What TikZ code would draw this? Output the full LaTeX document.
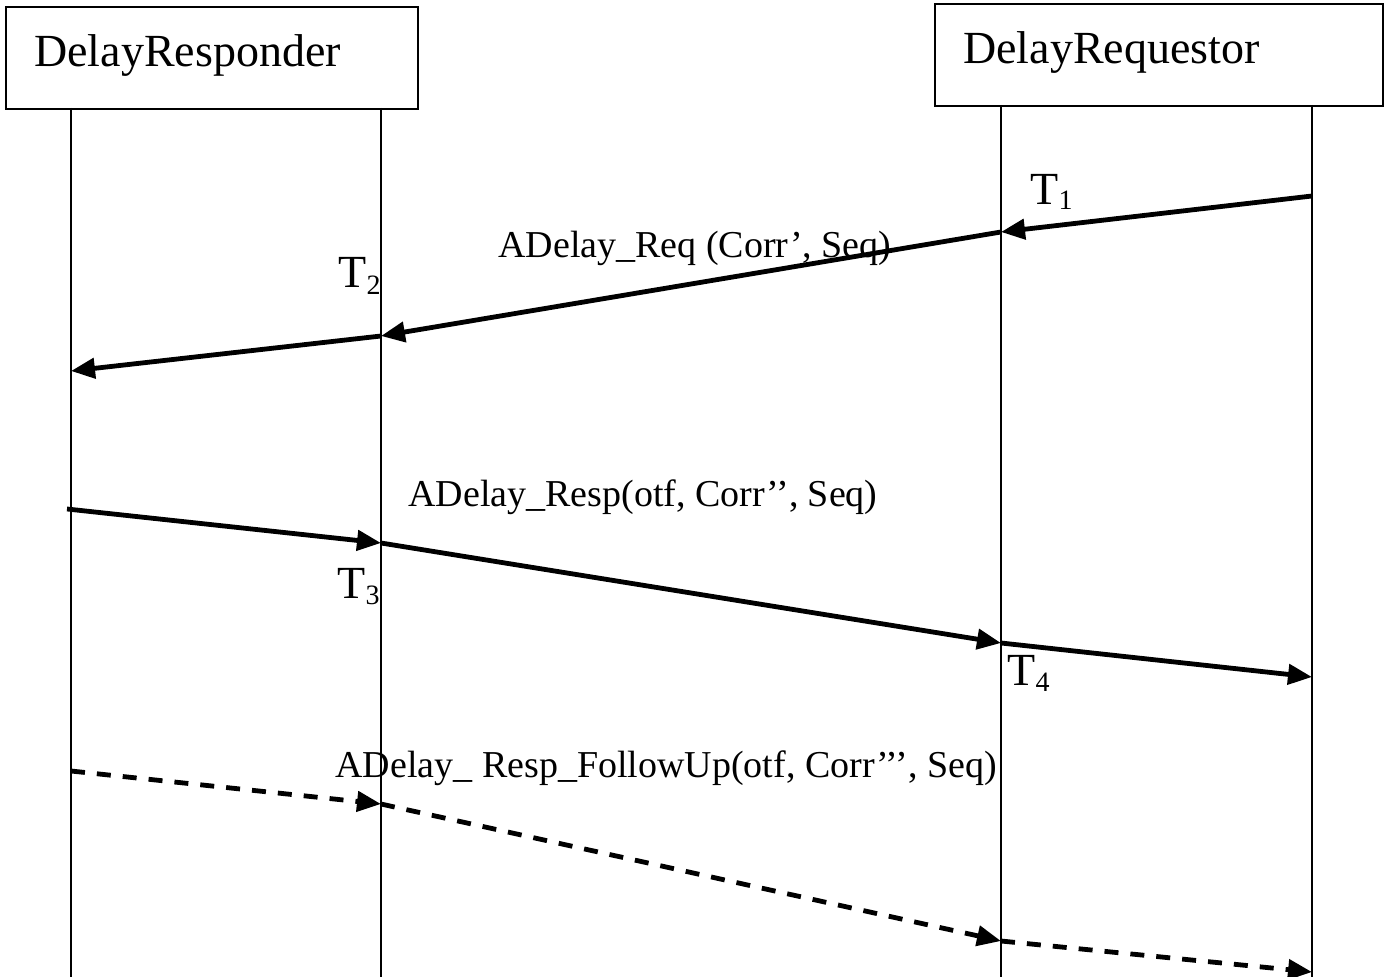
\documentclass[tikz,border=0pt]{standalone}
\usepackage{fontspec}
\setmainfont{Liberation Serif}
\usetikzlibrary{arrows.meta}

\begin{document}
\begin{tikzpicture}[x=0.5pt,y=-0.5pt,
  actor/.style={draw,line width=1.2pt,anchor=north west,minimum height=51pt,inner xsep=14pt,align=left,text height=14pt,text depth=6pt,font=\fontsize{23}{27}\selectfont},
  life/.style={line width=1.1pt},
  msg/.style={line width=2.4pt,-{Triangle[length=12pt,width=10pt]}},
  fmsg/.style={msg,dash pattern=on 7pt off 6pt},
  tlbl/.style={anchor=base west,inner sep=0pt,font=\fontsize{23}{27}\selectfont},
  mlbl/.style={anchor=base west,inner sep=0pt,font=\fontsize{19}{23}\selectfont}]
\useasboundingbox (0,0) rectangle (1385,977);
\draw (5,6) node[actor,text width=178pt](responder) {DelayResponder};
\draw (934,3) node[actor,text width=196pt](requestor) {DelayRequestor};
% lifelines
\coordinate (rsa) at (71,108);  \coordinate (rsb) at (71,977);
\coordinate (rta) at (381,108); \coordinate (rtb) at (381,977);
\coordinate (qsa) at (1001,105); \coordinate (qsb) at (1001,977);
\coordinate (qta) at (1312,105); \coordinate (qtb) at (1312,977);
\draw[life] (rsa) -- (rsb);
\draw[life] (rta) -- (rtb);
\draw[life] (qsa) -- (qsb);
\draw[life] (qta) -- (qtb);
% Delay_Req
\coordinate (reqone) at (1312,196);
\coordinate (reqtwo) at (1001,232);
\coordinate (reqthree) at (381,336);
\coordinate (reqfour) at (71,371);
\draw[msg] (reqone) -- (reqtwo);
\draw[msg] (reqtwo) -- (reqthree);
\draw[msg] (reqthree) -- (reqfour);
\draw (498,258) node[mlbl](reqlbl) {ADelay\_Req (Corr’, Seq)};
\draw (1030,205) node[tlbl](tone) {T\raisebox{-2.5pt}{\fontsize{14}{14}\selectfont 1}};
\draw (338,288) node[tlbl](ttwo) {T\raisebox{-3.5pt}{\fontsize{14}{14}\selectfont 2}};
% Delay_Resp
\coordinate (respone) at (67,509);
\coordinate (resptwo) at (381,543);
\coordinate (respthree) at (1001,643);
\coordinate (respfour) at (1312,677);
\draw[msg] (respone) -- (resptwo);
\draw[msg] (resptwo) -- (respthree);
\draw[msg] (respthree) -- (respfour);
\draw (408,507) node[mlbl](resplbl) {ADelay\_Resp(otf, Corr’’, Seq)};
\draw (337,598) node[tlbl](tthree) {T\raisebox{-3pt}{\fontsize{14}{14}\selectfont 3}};
\draw (1007,685) node[tlbl](tfour) {T\raisebox{-3pt}{\fontsize{14}{14}\selectfont 4}};
% Delay_Resp_FollowUp
\coordinate (folone) at (71,771);
\coordinate (foltwo) at (381,804);
\coordinate (folthree) at (1001,941);
\coordinate (folfour) at (1312,972);
\draw[fmsg] (folone) -- (foltwo);
\draw[fmsg] (foltwo) -- (folthree);
\draw[fmsg] (folthree) -- (folfour);
\draw (335,777) node[mlbl](follbl) {ADelay\_ Resp\_FollowUp(otf, Corr’’’, Seq)};
\end{tikzpicture}
\end{document}
